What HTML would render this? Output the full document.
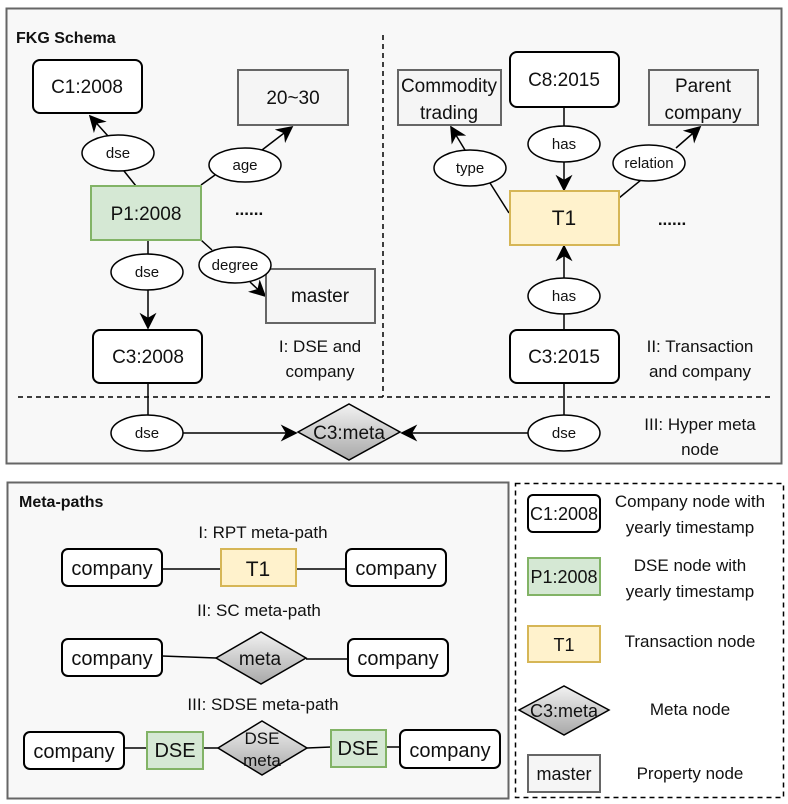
<!DOCTYPE html>
<html><head><meta charset="utf-8"><style>
html,body{margin:0;padding:0;background:#fff}
svg{display:block}
text{font-family:"Liberation Sans",Arial,sans-serif;fill:#111}
</style></head><body>
<svg width="788" height="804" viewBox="0 0 788 804" xmlns="http://www.w3.org/2000/svg">
<defs>
<linearGradient id="g" x1="0" y1="0" x2="0" y2="1"><stop offset="0" stop-color="#f2f2f2"/><stop offset="1" stop-color="#a8a8a8"/></linearGradient>
<marker id="b" viewBox="0 0 10 10" refX="9" refY="5" markerWidth="17" markerHeight="17" markerUnits="userSpaceOnUse" orient="auto"><path d="M0,0 L10,5 L0,10 L3,5 Z" fill="#000"/></marker>
</defs>
<rect x="6.5" y="8.5" width="775" height="455" fill="#f8f8f8" stroke="#666" stroke-width="2"/>
<text x="16" y="43" font-size="16" font-weight="bold">FKG Schema</text>
<line x1="383" y1="35" x2="383" y2="397" stroke="#000" stroke-width="1.5" stroke-dasharray="5,4"/>
<line x1="18" y1="397" x2="770" y2="397" stroke="#000" stroke-width="1.5" stroke-dasharray="5,4"/>
<g stroke="#000" stroke-width="1.5" fill="none">
<line x1="136" y1="186" x2="124" y2="171"/>
<line x1="108" y1="136" x2="90" y2="116" marker-end="url(#b)"/>
<line x1="201" y1="185" x2="215" y2="175"/>
<line x1="262" y1="150" x2="292" y2="127" marker-end="url(#b)"/>
<line x1="148" y1="240" x2="148" y2="254"/>
<line x1="148" y1="290" x2="148" y2="328" marker-end="url(#b)"/>
<line x1="201" y1="240" x2="212" y2="250"/>
<line x1="250" y1="282" x2="265" y2="296" marker-end="url(#b)"/>
<line x1="148" y1="383" x2="148" y2="415"/>
<line x1="183" y1="433" x2="296" y2="433" marker-end="url(#b)"/>
<line x1="564" y1="107" x2="564" y2="126"/>
<line x1="564" y1="162" x2="564" y2="190" marker-end="url(#b)"/>
<line x1="509" y1="213" x2="490" y2="183"/>
<line x1="465" y1="150" x2="451" y2="127" marker-end="url(#b)"/>
<line x1="619" y1="198" x2="641" y2="180"/>
<line x1="676" y1="148" x2="700" y2="127" marker-end="url(#b)"/>
<line x1="564" y1="330" x2="564" y2="314"/>
<line x1="564" y1="278" x2="564" y2="246" marker-end="url(#b)"/>
<line x1="564" y1="383" x2="564" y2="415"/>
<line x1="528" y1="433" x2="402" y2="433" marker-end="url(#b)"/>
</g>
<g stroke="#000" stroke-width="2" fill="#fff">
<rect x="33" y="60" width="109" height="53" rx="7"/>
<rect x="93" y="330" width="109" height="53" rx="7"/>
<rect x="510" y="52" width="109" height="55" rx="7"/>
<rect x="510" y="330" width="109" height="53" rx="7"/>
</g>
<g stroke="#666" stroke-width="2" fill="#f5f5f5">
<rect x="238" y="70" width="110" height="55"/>
<rect x="266" y="269" width="109" height="54"/>
<rect x="398" y="70" width="103" height="55"/>
<rect x="649" y="70" width="109" height="55"/>
</g>
<rect x="91" y="186" width="110" height="54" fill="#d5e8d4" stroke="#82b366" stroke-width="2"/>
<rect x="510" y="191" width="109" height="54" fill="#fff2cc" stroke="#d6b656" stroke-width="2"/>
<polygon points="298,432 349,404 400,432 349,460" fill="url(#g)" stroke="#000" stroke-width="1.5"/>
<g fill="#fff" stroke="#000" stroke-width="1.5">
<ellipse cx="118" cy="153" rx="36" ry="18"/>
<ellipse cx="245" cy="165" rx="36" ry="17"/>
<ellipse cx="147" cy="272" rx="36" ry="18"/>
<ellipse cx="235" cy="265" rx="36" ry="18"/>
<ellipse cx="147" cy="433" rx="36" ry="18"/>
<ellipse cx="564" cy="144" rx="36" ry="18"/>
<ellipse cx="470" cy="168" rx="36" ry="18"/>
<ellipse cx="649" cy="163" rx="36" ry="18"/>
<ellipse cx="564" cy="296" rx="36" ry="18"/>
<ellipse cx="564" cy="433" rx="36" ry="18"/>
</g>
<g font-size="19" text-anchor="middle">
<text x="87" y="93">C1:2008</text>
<text x="148" y="363">C3:2008</text>
<text x="564" y="86">C8:2015</text>
<text x="564" y="363">C3:2015</text>
<text x="146" y="220">P1:2008</text>
<text x="564" y="225" font-size="21">T1</text>
<text x="293" y="104" fill="#333">20~30</text>
<text x="320" y="302" fill="#333">master</text>
<text x="449" y="92" fill="#333">Commodity</text>
<text x="449" y="119" fill="#333">trading</text>
<text x="703" y="92" fill="#333">Parent</text>
<text x="703" y="119" fill="#333">company</text>
<text x="349" y="439" fill="#333">C3:meta</text>
</g>
<g font-size="15" text-anchor="middle">
<text x="118" y="158">dse</text>
<text x="245" y="170">age</text>
<text x="147" y="277">dse</text>
<text x="235" y="270">degree</text>
<text x="147" y="438">dse</text>
<text x="564" y="149">has</text>
<text x="470" y="173">type</text>
<text x="649" y="168">relation</text>
<text x="564" y="301">has</text>
<text x="564" y="438">dse</text>
</g>
<g font-size="17" font-weight="bold" text-anchor="middle">
<text x="249" y="215">......</text>
<text x="672" y="225">......</text>
</g>
<g font-size="17" text-anchor="middle">
<text x="320" y="352">I: DSE and</text>
<text x="320" y="377">company</text>
<text x="700" y="352">II: Transaction</text>
<text x="700" y="377">and company</text>
<text x="700" y="430">III: Hyper meta</text>
<text x="700" y="455">node</text>
</g>
<rect x="7.5" y="482.5" width="501" height="316" fill="#f8f8f8" stroke="#666" stroke-width="2"/>
<text x="19" y="507" font-size="16" font-weight="bold">Meta-paths</text>
<g font-size="17" text-anchor="middle">
<text x="263" y="538">I: RPT meta-path</text>
<text x="259" y="616">II: SC meta-path</text>
<text x="263" y="710">III: SDSE meta-path</text>
</g>
<g stroke="#000" stroke-width="1.5">
<line x1="162" y1="569" x2="221" y2="569"/><line x1="296" y1="569" x2="346" y2="569"/>
<line x1="162" y1="656" x2="216" y2="658"/><line x1="306" y1="659" x2="348" y2="659"/>
<line x1="124" y1="748" x2="147" y2="748"/><line x1="203" y1="748" x2="218" y2="748"/>
<line x1="307" y1="748" x2="331" y2="747"/><line x1="386" y1="747" x2="400" y2="747"/>
</g>
<g stroke="#000" stroke-width="2" fill="#fff">
<rect x="62" y="549" width="100" height="37" rx="6"/>
<rect x="346" y="549" width="100" height="37" rx="6"/>
<rect x="62" y="639" width="100" height="37" rx="6"/>
<rect x="348" y="639" width="100" height="37" rx="6"/>
<rect x="24" y="732" width="100" height="37" rx="6"/>
<rect x="400" y="730" width="100" height="38" rx="6"/>
</g>
<rect x="221" y="549" width="75" height="37" fill="#fff2cc" stroke="#d6b656" stroke-width="2"/>
<rect x="147" y="732" width="56" height="37" fill="#d5e8d4" stroke="#82b366" stroke-width="2"/>
<rect x="331" y="730" width="55" height="37" fill="#d5e8d4" stroke="#82b366" stroke-width="2"/>
<polygon points="216,658 261,632 306,658 261,684" fill="url(#g)" stroke="#000" stroke-width="1.5"/>
<polygon points="218,748 262,721 307,748 262,775" fill="url(#g)" stroke="#000" stroke-width="1.5"/>
<g font-size="20" text-anchor="middle">
<text x="112" y="575">company</text>
<text x="396" y="575">company</text>
<text x="112" y="665">company</text>
<text x="398" y="665">company</text>
<text x="74" y="758">company</text>
<text x="450" y="757">company</text>
<text x="258" y="576" font-size="21">T1</text>
<text x="175" y="757">DSE</text>
<text x="358" y="755">DSE</text>
<text x="260" y="665" fill="#333" font-size="19">meta</text>
<text x="262" y="744" font-size="17" fill="#333">DSE</text>
<text x="262" y="766" font-size="17" fill="#333">meta</text>
</g>
<rect x="515.5" y="483.5" width="268" height="314" fill="#fff" stroke="#000" stroke-width="1.5" stroke-dasharray="5,4"/>
<rect x="528" y="495" width="72" height="37" rx="5" fill="#fff" stroke="#000" stroke-width="2"/>
<rect x="528" y="558" width="72" height="37" fill="#d5e8d4" stroke="#82b366" stroke-width="2"/>
<rect x="528" y="626" width="72" height="36" fill="#fff2cc" stroke="#d6b656" stroke-width="2"/>
<polygon points="519,710 564,686 609,710 564,735" fill="url(#g)" stroke="#000" stroke-width="1.5"/>
<rect x="528" y="755" width="72" height="37" fill="#f5f5f5" stroke="#666" stroke-width="2"/>
<g font-size="18" text-anchor="middle">
<text x="564" y="520">C1:2008</text>
<text x="564" y="583">P1:2008</text>
<text x="564" y="651">T1</text>
<text x="564" y="717" fill="#333">C3:meta</text>
<text x="564" y="780" fill="#333">master</text>
</g>
<g font-size="17" text-anchor="middle">
<text x="690" y="507">Company node with</text>
<text x="690" y="533">yearly timestamp</text>
<text x="690" y="571">DSE node with</text>
<text x="690" y="597">yearly timestamp</text>
<text x="690" y="647">Transaction node</text>
<text x="690" y="715">Meta node</text>
<text x="690" y="779">Property node</text>
</g>
</svg>
</body></html>
